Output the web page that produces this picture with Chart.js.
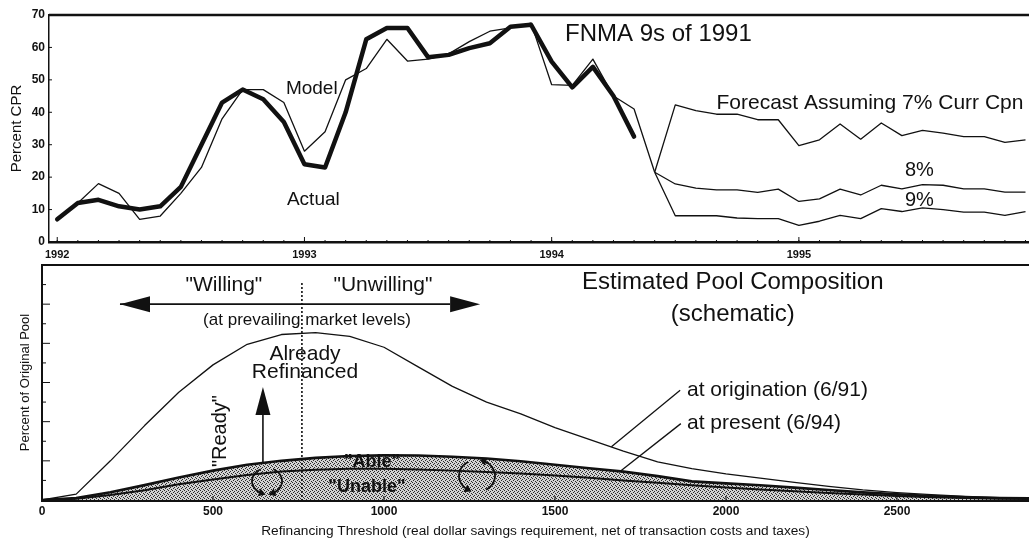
<!DOCTYPE html>
<html>
<head>
<meta charset="utf-8">
<title>FNMA 9s of 1991</title>
<script src="https://cdn.jsdelivr.net/npm/chart.js@4.4.1/dist/chart.umd.min.js"></script>
<style>
    html, body { margin: 0; padding: 0; background: #fff; }
    #wrap { position: relative; width: 1029px; height: 539px; overflow: hidden; }
    .panel { position: absolute; left: 0; width: 1029px; }
    #top { top: 0; height: 262px; }
    #bottom { top: 262px; height: 277px; }
</style>
</head>
<body>
<div id="wrap">
    <div class="panel" id="top"><canvas id="cprChart"></canvas></div>
    <div class="panel" id="bottom"><canvas id="poolChart"></canvas></div>
</div>
<script>
// ---- top panel: monthly CPR, month 0 = Jan 1992 ----
const yearLabels = ["1992", "1993", "1994", "1995"];
const actualCpr = [7, 12, 13, 11, 10, 11, 17, 30, 43, 47, 44, 37,
    24, 23, 40, 62.5, 66, 66, 57, 57.7, 59.8, 61.3, 66.4, 67,
    55.6, 47.7, 54, 45, 32.5];
const modelCpr = [7, 12, 18, 15, 7, 8, 15, 23, 38, 47, 47, 43,
    28, 34, 50, 53.5, 62.5, 55.8, 56.4, 58, 61.8, 65, 66, 67.5,
    48.5, 48.3, 56.4, 45, 41, 21.5];
const forecastStart = 29; // Jun 1994
const forecast7 = [21.5, 42.3, 40.5, 39.4, 39.4, 37.7, 37.7, 29.7, 31.5, 36.4, 31.7, 36.7,
    32.8, 34.4, 33.6, 32.5, 32.5, 30.7, 31.5];
const forecast8 = [21.5, 17.9, 16.6, 16.1, 16.1, 15.3, 16.3, 12.5, 13.3, 16.3, 14.5, 17.5,
    16.4, 17.7, 17.5, 16.4, 16.4, 15.4, 15.4];
const forecast9 = [21.5, 8.1, 8.1, 8.1, 7.4, 7.2, 7.2, 5.1, 6.4, 8.2, 7.2, 10.3,
    9.4, 10.5, 10, 9.2, 9.2, 8.2, 9.4];

// ---- bottom panel: schematic pool composition ----
const thresholds = [0, 100, 200, 300, 400, 500, 600, 700, 800, 900, 1000, 1100, 1200, 1300, 1400,
    1500, 1600, 1700, 1800, 1900, 2000, 2100, 2200, 2300, 2400, 2500, 2600, 2700, 2800, 2900];
const atOrigination = [0, 0.3, 2.0, 3.8, 5.5, 6.9, 7.95, 8.45, 8.55, 8.35, 7.8, 6.8, 5.8, 5.0, 4.4,
    3.7, 3.1, 2.5, 1.95, 1.6, 1.33, 1.12, 0.9, 0.7, 0.52, 0.38, 0.27, 0.18, 0.12, 0.08];
const atPresent = [0, 0.1, 0.4, 0.76, 1.15, 1.5, 1.8, 2.0, 2.15, 2.25, 2.28, 2.27, 2.21, 2.12, 1.98,
    1.8, 1.62, 1.45, 1.22, 0.95, 0.85, 0.75, 0.63, 0.51, 0.39, 0.29, 0.2, 0.14, 0.1, 0.08];
const ableSplit = [0, 0.06, 0.25, 0.5, 0.8, 1.05, 1.28, 1.45, 1.55, 1.6, 1.6, 1.56, 1.5, 1.43, 1.35,
    1.25, 1.13, 1.0, 0.88, 0.75, 0.64, 0.54, 0.45, 0.36, 0.28, 0.2, 0.14, 0.1, 0.07, 0.05];
const thresholdTicks = [0, 500, 1000, 1500, 2000, 2500];

const INK = "#111";
const FONT = "'Liberation Sans', Arial, Helvetica, sans-serif";

const monthPts = (vals, start) => vals.map((v, i) => ({ x: start + i, y: v }));
const xyPts = (xs, ys) => ys.map((v, i) => ({ x: xs[i], y: v }));

// grey stipple used for the "present" pool
function stipple() {
    const c = document.createElement("canvas");
    c.width = 4; c.height = 4;
    const g = c.getContext("2d");
    g.fillStyle = "#d2d2d2";
    g.fillRect(0, 0, 4, 4);
    g.fillStyle = "#2a2a2a";
    [[0, 0], [2, 1], [1, 2], [3, 3]].forEach(([px, py]) => g.fillRect(px, py, 1, 1));
    return g.createPattern(c, "repeat");
}

function arrowHead(ctx, x, y, ang, len, half) {
    ctx.beginPath();
    ctx.moveTo(x, y);
    ctx.lineTo(x - len * Math.cos(ang) - half * Math.sin(ang), y - len * Math.sin(ang) + half * Math.cos(ang));
    ctx.lineTo(x - len * Math.cos(ang) + half * Math.sin(ang), y - len * Math.sin(ang) - half * Math.cos(ang));
    ctx.closePath();
    ctx.fill();
}

function curlyArc(ctx, cx, cy, rx, ry, a0, a1, ccw) {
    ctx.beginPath();
    ctx.ellipse(cx, cy, rx, ry, 0, a0, a1, ccw);
    ctx.stroke();
    const ex = cx + rx * Math.cos(a1), ey = cy + ry * Math.sin(a1);
    let dx = -rx * Math.sin(a1), dy = ry * Math.cos(a1);
    if (ccw) { dx = -dx; dy = -dy; }
    const ang = Math.atan2(dy, dx);
    arrowHead(ctx, ex + 4 * Math.cos(ang), ey + 4 * Math.sin(ang), ang, 7, 4);
}

// frame line on top plus inward tick marks
const framePlugin = {
    id: "frame",
    afterDatasetsDraw(chart, args, opts) {
        const { ctx, chartArea: a, scales: { x, y } } = chart;
        ctx.save();
        ctx.strokeStyle = INK;
        ctx.lineWidth = opts.topWidth;
        ctx.beginPath();
        ctx.moveTo(a.left, a.top);
        ctx.lineTo(a.right, a.top);
        ctx.stroke();
        ctx.lineWidth = 1;
        ctx.beginPath();
        x.ticks.forEach(t => {
            const px = x.getPixelForValue(t.value);
            ctx.moveTo(px, a.bottom);
            ctx.lineTo(px, a.bottom - opts.xTick);
        });
        if (opts.xMinor) {
            for (let v = Math.ceil(x.min); v <= x.max; v += opts.xMinor) {
                const px = x.getPixelForValue(v);
                ctx.moveTo(px, a.bottom);
                ctx.lineTo(px, a.bottom - 2);
            }
        }
        y.ticks.forEach(t => {
            const py = y.getPixelForValue(t.value);
            const len = opts.yTickLong && t.value % 2 === 0 ? opts.yTickLong : opts.yTick;
            ctx.moveTo(a.left, py);
            ctx.lineTo(a.left + len, py);
        });
        ctx.stroke();
        ctx.restore();
    }
};

// text, arrows and other annotations placed in data coordinates
const notesPlugin = {
    id: "notes",
    afterDatasetsDraw(chart, args, opts) {
        const { ctx, scales: { x, y } } = chart;
        const px = v => x.getPixelForValue(v);
        const py = v => y.getPixelForValue(v);
        ctx.save();
        ctx.strokeStyle = INK;
        ctx.fillStyle = INK;
        (opts.items || []).forEach(it => {
            if (it.type === "line") {
                ctx.lineWidth = it.width || 1.3;
                ctx.setLineDash(it.dash || []);
                ctx.beginPath();
                ctx.moveTo(px(it.from[0]), py(it.from[1]));
                ctx.lineTo(px(it.to[0]), py(it.to[1]));
                ctx.stroke();
                ctx.setLineDash([]);
            } else if (it.type === "arrow") {
                const x0 = px(it.from[0]), y0 = py(it.from[1]);
                const x1 = px(it.to[0]), y1 = py(it.to[1]);
                const ang = Math.atan2(y1 - y0, x1 - x0);
                ctx.lineWidth = it.width || 1.5;
                ctx.beginPath();
                ctx.moveTo(x0, y0);
                ctx.lineTo(x1 - it.head * Math.cos(ang), y1 - it.head * Math.sin(ang));
                ctx.stroke();
                arrowHead(ctx, x1, y1, ang, it.head, it.half);
                if (it.both) arrowHead(ctx, x0, y0, ang + Math.PI, it.head, it.half);
            } else if (it.type === "curly") {
                ctx.lineWidth = 1.8;
                const cx = px(it.at[0]), cy = py(it.at[1]);
                it.arcs.forEach(([a0, a1, ccw]) =>
                    curlyArc(ctx, cx, cy, it.rx, it.ry, a0 * Math.PI / 180, a1 * Math.PI / 180, ccw));
            } else {
                ctx.font = (it.bold ? "bold " : "") + it.size + "px " + FONT;
                ctx.textAlign = it.align || "center";
                ctx.textBaseline = "middle";
                ctx.save();
                ctx.translate(px(it.x), py(it.y));
                if (it.rotate) ctx.rotate(it.rotate * Math.PI / 180);
                ctx.fillText(it.text, 0, 0);
                ctx.restore();
            }
        });
        ctx.restore();
    }
};

const thinLine = { borderColor: INK, borderWidth: 1.3, pointRadius: 0, tension: 0, borderJoinStyle: "round", fill: false };

new Chart(document.getElementById("cprChart"), {
    type: "line",
    data: {
        datasets: [
            { ...thinLine, label: "Actual", data: monthPts(actualCpr, 0), borderWidth: 4.5, borderCapStyle: "round" },
            { ...thinLine, label: "Model", data: monthPts(modelCpr, 0) },
            { ...thinLine, label: "7%", data: monthPts(forecast7, forecastStart) },
            { ...thinLine, label: "8%", data: monthPts(forecast8, forecastStart) },
            { ...thinLine, label: "9%", data: monthPts(forecast9, forecastStart) }
        ]
    },
    options: {
        responsive: true,
        maintainAspectRatio: false,
        animation: false,
        layout: { padding: { top: 15, right: 0, bottom: 0, left: 0 } },
        plugins: {
            legend: { display: false },
            tooltip: { enabled: false },
            frame: { topWidth: 2.5, xTick: 5, xMinor: 1, yTick: 3 },
            notes: {
                items: [
                    { text: "FNMA 9s of 1991", x: 24.65, y: 64.1, size: 24, align: "left" },
                    { text: "Model", x: 11.1, y: 47.2, size: 19, align: "left" },
                    { text: "Actual", x: 11.15, y: 12.95, size: 19, align: "left" },
                    { text: "Forecast Assuming 7% Curr Cpn", x: 32.0, y: 42.9, size: 21, align: "left" },
                    { text: "8%", x: 41.15, y: 21.9, size: 20, align: "left" },
                    { text: "9%", x: 41.15, y: 12.95, size: 20, align: "left" }
                ]
            }
        },
        scales: {
            x: {
                type: "linear",
                min: -0.4,
                max: 47.17,
                afterBuildTicks: s => { s.ticks = yearLabels.map((l, i) => ({ value: i * 12 })); },
                afterFit: s => { s.height = 20; },
                ticks: {
                    callback: v => yearLabels[v / 12],
                    font: { family: FONT, size: 11, weight: "bold" },
                    color: INK,
                    padding: 6,
                    maxRotation: 0,
                    autoSkip: false
                },
                grid: { display: false, drawTicks: false },
                border: { display: true, width: 2.5, color: INK }
            },
            y: {
                min: 0,
                max: 70,
                afterFit: s => { s.width = 49; },
                ticks: {
                    stepSize: 10,
                    font: { family: FONT, size: 12, weight: "bold" },
                    color: INK,
                    padding: 4
                },
                title: {
                    display: true,
                    text: "Percent CPR",
                    font: { family: FONT, size: 15 },
                    color: INK,
                    padding: { top: 8, bottom: 0 }
                },
                grid: { display: false, drawTicks: false },
                border: { display: true, width: 1.5, color: INK }
            }
        }
    },
    plugins: [framePlugin, notesPlugin]
});

new Chart(document.getElementById("poolChart"), {
    type: "line",
    data: {
        datasets: [
            { ...thinLine, label: "at origination (6/91)", data: xyPts(thresholds, atOrigination) },
            { ...thinLine, label: "Able / Unable", data: xyPts(thresholds, ableSplit), borderWidth: 2 },
            {
                ...thinLine, label: "at present (6/94)", data: xyPts(thresholds, atPresent),
                borderWidth: 2.6, fill: "origin", backgroundColor: stipple()
            }
        ]
    },
    options: {
        responsive: true,
        maintainAspectRatio: false,
        animation: false,
        layout: { padding: { top: 3, right: 0, bottom: 0, left: 0 } },
        plugins: {
            legend: { display: false },
            tooltip: { enabled: false },
            frame: { topWidth: 2, xTick: 4, yTick: 4, yTickLong: 8 },
            notes: {
                items: [
                    { type: "line", from: [760, 11.08], to: [760, 0], dash: [2, 2], width: 1.6 },
                    { type: "arrow", from: [228, 10.0], to: [1281, 10.0], head: 30, half: 8, both: true, width: 1.6 },
                    { type: "arrow", from: [646, 1.85], to: [646, 5.77], head: 28, half: 7.5, width: 1.6 },
                    { type: "line", from: [1665, 2.72], to: [1866, 5.6] },
                    { type: "line", from: [1690, 1.45], to: [1868, 3.9] },
                    { type: "curly", at: [658, 0.97], rx: 15, ry: 13, arcs: [[245, 110, true], [295, 70, false]] },
                    { type: "curly", at: [1272, 1.23], rx: 18, ry: 16, arcs: [[60, -70, true], [240, 120, true]] },
                    { text: "\"Willing\"", x: 532, y: 10.98, size: 21 },
                    { text: "\"Unwilling\"", x: 997, y: 10.98, size: 21 },
                    { text: "(at prevailing market levels)", x: 775, y: 9.19, size: 17 },
                    { text: "Already", x: 769, y: 7.46, size: 21 },
                    { text: "Refinanced", x: 769, y: 6.54, size: 21 },
                    { text: "\"Ready\"", x: 523, y: 3.52, size: 20, rotate: -90 },
                    { text: "Estimated Pool Composition", x: 2020, y: 11.13, size: 24 },
                    { text: "(schematic)", x: 2020, y: 9.5, size: 24 },
                    { text: "at origination (6/91)", x: 1886, y: 5.62, size: 21, align: "left" },
                    { text: "at present (6/94)", x: 1886, y: 3.93, size: 21, align: "left" },
                    { text: "\"Able\"", x: 965, y: 1.94, size: 18, bold: true },
                    { text: "\"Unable\"", x: 950, y: 0.66, size: 18, bold: true }
                ]
            }
        },
        scales: {
            x: {
                type: "linear",
                min: 0,
                max: 2886,
                afterBuildTicks: s => { s.ticks = thresholdTicks.map(v => ({ value: v })); },
                afterFit: s => { s.height = 39; },
                ticks: {
                    callback: v => String(v),
                    font: { family: FONT, size: 12, weight: "bold" },
                    color: INK,
                    padding: 4,
                    maxRotation: 0,
                    autoSkip: false
                },
                title: {
                    display: true,
                    text: "Refinancing Threshold (real dollar savings requirement, net of transaction costs and taxes)",
                    font: { family: FONT, size: 13.7 },
                    color: INK,
                    padding: { top: 0, bottom: 0 }
                },
                grid: { display: false, drawTicks: false },
                border: { display: true, width: 3, color: INK }
            },
            y: {
                min: 0,
                max: 12,
                afterFit: s => { s.width = 42; },
                ticks: { stepSize: 1, display: false },
                title: {
                    display: true,
                    text: "Percent of Original Pool",
                    font: { family: FONT, size: 13 },
                    color: INK,
                    padding: { top: 18, bottom: 0 }
                },
                grid: { display: false, drawTicks: false },
                border: { display: true, width: 2, color: INK }
            }
        }
    },
    plugins: [framePlugin, notesPlugin]
});
</script>
</body>
</html>
